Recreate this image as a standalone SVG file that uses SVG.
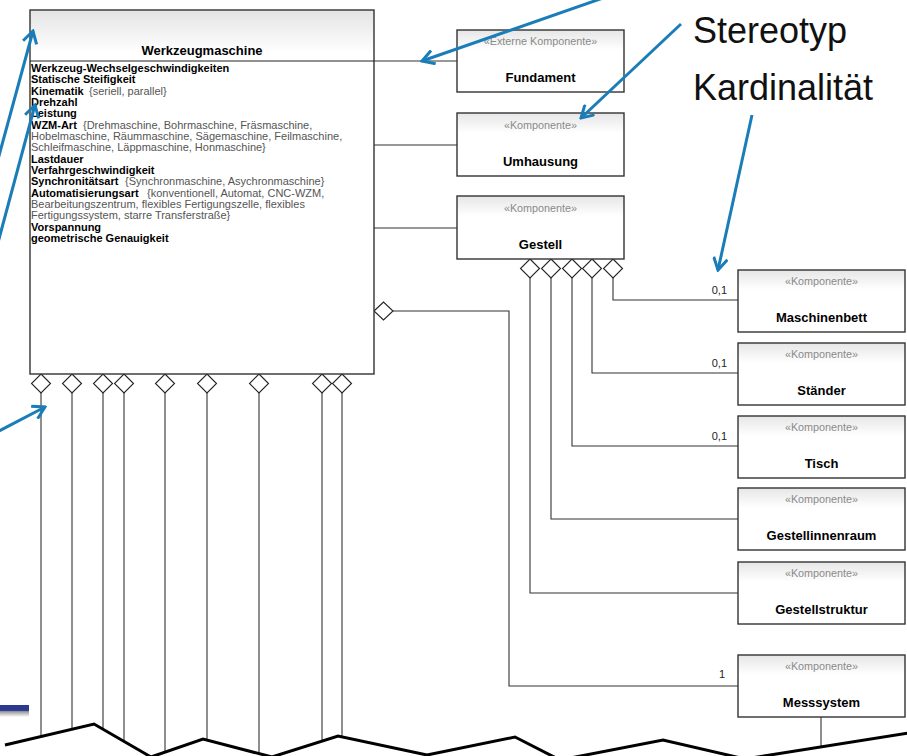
<svg xmlns="http://www.w3.org/2000/svg" width="907" height="756" viewBox="0 0 907 756">
  <defs>
    <linearGradient id="boxFill" x1="0" y1="0" x2="0" y2="1">
      <stop offset="0" stop-color="#e6e6e6"/>
      <stop offset="0.32" stop-color="#ffffff"/>
      <stop offset="1" stop-color="#ffffff"/>
    </linearGradient>
    <linearGradient id="classFill" x1="0" y1="0" x2="0" y2="1">
      <stop offset="0" stop-color="#e4e4e4"/>
      <stop offset="0.12" stop-color="#ffffff"/>
      <stop offset="1" stop-color="#ffffff"/>
    </linearGradient>
    <linearGradient id="barShade" x1="0" y1="0" x2="0" y2="1">
      <stop offset="0" stop-color="#2b3a8f"/>
      <stop offset="0.45" stop-color="#2b3a8f"/>
      <stop offset="0.55" stop-color="#9a9a9a"/>
      <stop offset="1" stop-color="#ffffff"/>
    </linearGradient>
    <marker id="openHead" viewBox="0 0 16 16" refX="14" refY="8" markerWidth="16" markerHeight="16" markerUnits="userSpaceOnUse" orient="auto">
      <path d="M2,1 L14,8 L2,15" fill="none" stroke="#1a7db8" stroke-width="3" stroke-linejoin="miter"/>
    </marker>
  </defs>
  <style>
    .box { fill: url(#boxFill); stroke: #333; stroke-width: 1.4; }
    .cls { fill: url(#classFill); stroke: #333; stroke-width: 1.4; }
    .st { font-family: "Liberation Sans", Arial, sans-serif; font-size: 10.8px; fill: #8a8a8a; text-anchor: middle; }
    .nm { font-family: "Liberation Sans", Arial, sans-serif; font-size: 13px; font-weight: bold; fill: #000; text-anchor: middle; }
    .attr { font-family: "Liberation Sans", Arial, sans-serif; font-size: 11px; fill: #000; }
    .b { font-weight: bold; fill: #000; }
    .g { fill: #555; }
    .card { font-family: "Liberation Sans", Arial, sans-serif; font-size: 11px; fill: #222; text-anchor: end; }
    .link { fill: none; stroke: #333; stroke-width: 1.1; }
    .dia { fill: #fff; stroke: #222; stroke-width: 1.1; }
    .note { fill: none; stroke: #1a7db8; stroke-width: 3; marker-end: url(#openHead); }
    .big { font-family: "Liberation Sans", Arial, sans-serif; font-size: 36px; fill: #111; }
  </style>

  <!-- connectors -->
  <g id="connectors">
    <!-- Werkzeugmaschine to its direct parts -->
    <path class="link" d="M374,61 H457"/>
    <path class="link" d="M374,145 H457"/>
    <path class="link" d="M374,228 H457"/>
    <path class="link" d="M393,311 H509 V686 H738"/>
    <!-- Gestell parts -->
    <path class="link" d="M613,278 V300 H738"/>
    <path class="link" d="M592,278 V373 H738"/>
    <path class="link" d="M572,278 V446 H738"/>
    <path class="link" d="M551,278 V519 H738"/>
    <path class="link" d="M530,278 V593 H738"/>
    <!-- lines below Werkzeugmaschine -->
    <path class="link" d="M41,393 V736.5"/>
    <path class="link" d="M72,393 V729.2"/>
    <path class="link" d="M103,393 V729.2"/>
    <path class="link" d="M124,393 V741.4"/>
    <path class="link" d="M165,393 V752.2"/>
    <path class="link" d="M207,393 V740"/>
    <path class="link" d="M259,393 V753.6"/>
    <path class="link" d="M322,393 V741.1"/>
    <path class="link" d="M342,393 V736.9"/>
    <path class="link" d="M821,717 V746"/>
    <!-- aggregation diamonds -->
    <g>
      <polygon class="dia" points="374,311 383.5,302 393,311 383.5,320"/>
      <polygon class="dia" points="530,259 539.5,268.5 530,278 520.5,268.5"/>
      <polygon class="dia" points="551,259 560.5,268.5 551,278 541.5,268.5"/>
      <polygon class="dia" points="572,259 581.5,268.5 572,278 562.5,268.5"/>
      <polygon class="dia" points="592,259 601.5,268.5 592,278 582.5,268.5"/>
      <polygon class="dia" points="613,259 622.5,268.5 613,278 603.5,268.5"/>
      <polygon class="dia" points="41,374 50.5,383.5 41,393 31.5,383.5"/>
      <polygon class="dia" points="72,374 81.5,383.5 72,393 62.5,383.5"/>
      <polygon class="dia" points="103,374 112.5,383.5 103,393 93.5,383.5"/>
      <polygon class="dia" points="124,374 133.5,383.5 124,393 114.5,383.5"/>
      <polygon class="dia" points="165,374 174.5,383.5 165,393 155.5,383.5"/>
      <polygon class="dia" points="207,374 216.5,383.5 207,393 197.5,383.5"/>
      <polygon class="dia" points="259,374 268.5,383.5 259,393 249.5,383.5"/>
      <polygon class="dia" points="322,374 331.5,383.5 322,393 312.5,383.5"/>
      <polygon class="dia" points="342,374 351.5,383.5 342,393 332.5,383.5"/>
    </g>
    <!-- multiplicities -->
    <text class="card" x="727" y="294">0,1</text>
    <text class="card" x="727" y="367">0,1</text>
    <text class="card" x="727" y="440">0,1</text>
    <text class="card" x="725" y="678">1</text>
  </g>

  <!-- main class -->
  <g id="werkzeugmaschine">
    <rect class="cls" x="30" y="10" width="344" height="364"/>
    <line x1="30" y1="61" x2="374" y2="61" stroke="#222" stroke-width="1.1"/>
    <text class="nm" x="202" y="55">Werkzeugmaschine</text>
    <text class="attr" x="31" y="72"><tspan class="b">Werkzeug-Wechselgeschwindigkeiten</tspan></text>
    <text class="attr" x="31" y="83.3"><tspan class="b">Statische Steifigkeit</tspan></text>
    <text class="attr" x="31" y="94.6"><tspan class="b">Kinematik</tspan><tspan class="g" x="89">{seriell, parallel}</tspan></text>
    <text class="attr" x="31" y="106"><tspan class="b">Drehzahl</tspan></text>
    <text class="attr" x="31" y="117.3"><tspan class="b">Leistung</tspan></text>
    <text class="attr" x="31" y="128.6"><tspan class="b">WZM-Art</tspan><tspan class="g" x="83">{Drehmaschine, Bohrmaschine, Fräsmaschine,</tspan></text>
    <text class="attr g" x="31" y="140">Hobelmaschine, Räummaschine, Sägemaschine, Feilmaschine,</text>
    <text class="attr g" x="31" y="151.3">Schleifmaschine, Läppmaschine, Honmaschine}</text>
    <text class="attr" x="31" y="162.6"><tspan class="b">Lastdauer</tspan></text>
    <text class="attr" x="31" y="174"><tspan class="b">Verfahrgeschwindigkeit</tspan></text>
    <text class="attr" x="31" y="185.3"><tspan class="b">Synchronitätsart</tspan><tspan class="g" x="125">{Synchronmaschine, Asychronmaschine}</tspan></text>
    <text class="attr" x="31" y="196.6"><tspan class="b">Automatisierungsart</tspan><tspan class="g" x="147">{konventionell, Automat, CNC-WZM,</tspan></text>
    <text class="attr g" x="31" y="208">Bearbeitungszentrum, flexibles Fertigungszelle, flexibles</text>
    <text class="attr g" x="31" y="219.3">Fertigungssystem, starre Transferstraße}</text>
    <text class="attr" x="31" y="230.6"><tspan class="b">Vorspannung</tspan></text>
    <text class="attr" x="31" y="242"><tspan class="b">geometrische Genauigkeit</tspan></text>
  </g>

  <!-- component boxes -->
  <g id="fundament">
    <rect class="box" x="457" y="30" width="167" height="62"/>
    <text class="st" x="540.5" y="45">«Externe Komponente»</text>
    <text class="nm" x="540.5" y="82">Fundament</text>
  </g>
  <g id="umhausung">
    <rect class="box" x="457" y="113" width="167" height="63"/>
    <text class="st" x="540.5" y="129">«Komponente»</text>
    <text class="nm" x="540.5" y="166">Umhausung</text>
  </g>
  <g id="gestell">
    <rect class="box" x="457" y="196" width="167" height="63"/>
    <text class="st" x="540.5" y="212">«Komponente»</text>
    <text class="nm" x="540.5" y="249">Gestell</text>
  </g>
  <g id="maschinenbett">
    <rect class="box" x="738" y="270" width="167" height="62"/>
    <text class="st" x="821.5" y="285">«Komponente»</text>
    <text class="nm" x="821.5" y="322">Maschinenbett</text>
  </g>
  <g id="staender">
    <rect class="box" x="738" y="343" width="167" height="62"/>
    <text class="st" x="821.5" y="358">«Komponente»</text>
    <text class="nm" x="821.5" y="395">Ständer</text>
  </g>
  <g id="tisch">
    <rect class="box" x="738" y="416" width="167" height="62"/>
    <text class="st" x="821.5" y="431">«Komponente»</text>
    <text class="nm" x="821.5" y="468">Tisch</text>
  </g>
  <g id="gestellinnenraum">
    <rect class="box" x="738" y="488" width="167" height="62"/>
    <text class="st" x="821.5" y="503">«Komponente»</text>
    <text class="nm" x="821.5" y="540">Gestellinnenraum</text>
  </g>
  <g id="gestellstruktur">
    <rect class="box" x="738" y="562" width="167" height="62"/>
    <text class="st" x="821.5" y="577">«Komponente»</text>
    <text class="nm" x="821.5" y="614">Gestellstruktur</text>
  </g>
  <g id="messsystem">
    <rect class="box" x="738" y="655" width="167" height="62"/>
    <text class="st" x="821.5" y="670">«Komponente»</text>
    <text class="nm" x="821.5" y="707">Messsystem</text>
  </g>

  <!-- torn lower edge -->
  <polyline points="5,745 94,724 151,757 203,739 272,757 338,736 427,755 515,737 560,760 663,740 745,759 908,733" fill="none" stroke="#000" stroke-width="3" stroke-linejoin="miter"/>

  <!-- slide bar -->
  <rect x="0" y="705" width="29" height="12" fill="url(#barShade)"/>

  <!-- callouts -->
  <g id="callouts">
    <text class="big" x="693" y="43">Stereotyp</text>
    <text class="big" x="693" y="100">Kardinalität</text>
    <line class="note" x1="603" y1="-2" x2="422" y2="61"/>
    <line class="note" x1="681" y1="24" x2="581" y2="118"/>
    <line class="note" x1="752" y1="115" x2="718" y2="270"/>
    <line class="note" x1="-3" y1="163" x2="33" y2="31"/>
    <line class="note" x1="-4" y1="250" x2="35" y2="105"/>
    <line class="note" x1="-3" y1="432" x2="45" y2="407"/>
  </g>
</svg>
